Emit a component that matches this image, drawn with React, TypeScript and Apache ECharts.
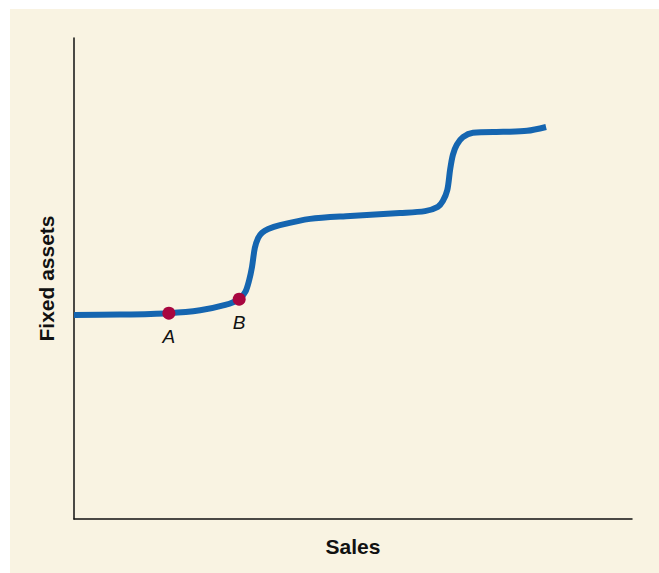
import React, { useEffect, useRef } from "react";
import * as echarts from "echarts";

// Curve (sales on x, fixed assets on y, 0–100 scales)
const salesX = [0, 8.2, 17.0, 22.6, 27.1, 29.6, 30.7, 31.4, 31.9, 32.4, 33.0, 33.7, 34.8, 36.9, 42.3, 49.5, 58.4, 62.9, 65.2, 66.1, 66.9, 67.4, 67.9, 68.6, 69.7, 71.5, 76.9, 81.2, 84.6];
const fixedAssetsY = [42.4, 42.5, 42.8, 43.4, 44.5, 45.7, 47.2, 49.7, 52.4, 56.3, 58.4, 59.5, 60.3, 61.1, 62.4, 63.0, 63.6, 64.0, 64.9, 66.1, 68.4, 72.6, 75.7, 77.8, 79.4, 80.3, 80.5, 80.7, 81.5];

const pointNames = ["A", "B"];
const pointX = [17.0, 29.6];
const pointY = [42.8, 45.7];

const xAxisTitle = "Sales";
const yAxisTitle = "Fixed assets";

export default function App() {
  const ref = useRef<HTMLDivElement>(null);
  useEffect(() => {
    if (!ref.current) return;
    const chart = echarts.init(ref.current, null, { renderer: "svg" });
    const textFont = "'Liberation Sans', Arial, sans-serif";
    chart.setOption({
      animation: false,
      backgroundColor: "transparent",
      grid: { left: 74, top: 38, right: 27, bottom: 54 },
      xAxis: {
        type: "value",
        min: 0,
        max: 100,
        name: xAxisTitle,
        nameLocation: "middle",
        nameGap: 17,
        nameTextStyle: { fontFamily: textFont, fontWeight: "bold", fontSize: 21, color: "#111", verticalAlign: "top" },
        axisLine: { show: true, lineStyle: { color: "#111", width: 1.5 } },
        axisTick: { show: false },
        axisLabel: { show: false },
        splitLine: { show: false },
      },
      yAxis: {
        type: "value",
        min: 0,
        max: 100,
        name: yAxisTitle,
        nameLocation: "middle",
        nameGap: 17,
        nameRotate: 90,
        nameTextStyle: { fontFamily: textFont, fontWeight: "bold", fontSize: 21, color: "#111" },
        axisLine: { show: true, lineStyle: { color: "#111", width: 1.5 } },
        axisTick: { show: false },
        axisLabel: { show: false },
        splitLine: { show: false },
      },
      series: [
        {
          type: "line",
          data: salesX.map((x, i) => [x, fixedAssetsY[i]]),
          smooth: 0.3,
          showSymbol: false,
          symbol: "none",
          lineStyle: { color: "#1565b0", width: 6, cap: "butt", join: "round" },
          z: 2,
        },
        {
          type: "scatter",
          data: pointX.map((x, i) => ({ name: pointNames[i], value: [x, pointY[i]] })),
          symbol: "circle",
          symbolSize: 13,
          itemStyle: { color: "#a8063f", opacity: 1 },
          label: {
            show: true,
            position: "bottom",
            distance: 7,
            formatter: (p: any) => p.name,
            fontFamily: textFont,
            fontStyle: "italic",
            fontSize: 19,
            color: "#111",
          },
          z: 3,
        },
      ],
    });
    return () => chart.dispose();
  }, []);
  return (
    <div style={{ position: "absolute", left: 0, top: 0, width: 659, height: 573, background: "#ffffff" }}>
      <div style={{ position: "absolute", left: 10, top: 9, width: 649, height: 564, background: "#f9f3e2" }} />
      <div ref={ref} style={{ position: "absolute", left: 0, top: 0, width: 659, height: 573 }} />
    </div>
  );
}
